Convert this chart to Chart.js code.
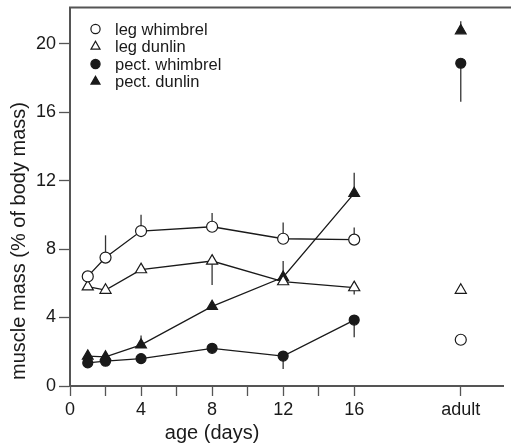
<!DOCTYPE html>
<html>
<head>
<meta charset="utf-8">
<script src="https://cdn.jsdelivr.net/npm/chart.js@4/dist/chart.umd.min.js"></script>
<style>
  html, body { margin: 0; padding: 0; background: #fff; }
  #wrap { width: 511px; height: 447px; }
</style>
</head>
<body>
<div id="wrap"><canvas id="chart" width="511" height="447"></canvas></div>
<script>
// age in days, the last one (22) is the "adult" column
var ages = [1, 2, 4, 8, 12, 16, 22];
var xTickValues = [0, 2, 4, 6, 8, 10, 12, 14, 16, 22];
var xTickLabels = { 0: '0', 4: '4', 8: '8', 12: '12', 16: '16', 22: 'adult' };
var yTickValues = [0, 4, 8, 12, 16, 20];

var legWhimbrel = [6.4, 7.5, 9.05, 9.3, 8.6, 8.55, 2.7];
var legDunlin = [5.8, 5.6, 6.8, 7.3, 6.1, 5.75, 5.6];
var pectWhimbrel = [1.35, 1.45, 1.6, 2.2, 1.75, 3.85, 18.85];
var pectDunlin = [1.75, 1.7, 2.4, 4.65, 6.35, 11.25, 20.75];

// one-sided error bar ends (null = none visible)
var legWhimbrelErr = [null, 8.8, 10.0, 10.1, 9.55, 9.25, null];
var legDunlinErr = [null, 5.4, null, 5.9, null, 5.35, 5.45];
var pectWhimbrelErr = [null, null, null, null, 1.0, 2.85, 16.6];
var pectDunlinErr = [2.0, null, 2.95, null, 7.3, 12.45, 21.3];

var axisColor = '#555';
var ink = '#1a1a1a';

function pts(arr) {
    return arr.map(function (v, i) { return { x: ages[i], y: v }; });
}

function makeSet(label, values, errs, style, fill, radius) {
    return {
        label: label,
        data: pts(values),
        errEnds: errs,
        borderColor: ink,
        borderWidth: 1.3,
        pointStyle: style,
        pointRadius: radius,
        pointHoverRadius: radius,
        pointBackgroundColor: fill,
        pointBorderColor: ink,
        pointBorderWidth: 1.2,
        tension: 0,
        segment: {
            // no line to the adult point
            borderColor: function (ctx) { return ctx.p1DataIndex === ages.length - 1 ? 'rgba(0,0,0,0)' : ink; }
        }
    };
}

var errorBars = {
    id: 'errorBars',
    beforeDatasetsDraw: function (chart) {
        var c = chart.ctx, xs = chart.scales.x, ys = chart.scales.y;
        c.save();
        c.strokeStyle = '#333';
        c.lineWidth = 1.3;
        chart.data.datasets.forEach(function (ds) {
            ds.errEnds.forEach(function (e, i) {
                if (e === null) return;
                var px = xs.getPixelForValue(ds.data[i].x);
                c.beginPath();
                c.moveTo(px, ys.getPixelForValue(ds.data[i].y));
                c.lineTo(px, ys.getPixelForValue(e));
                c.stroke();
            });
        });
        c.restore();
    }
};

var extras = {
    id: 'extras',
    afterDraw: function (chart) {
        var c = chart.ctx, a = chart.chartArea;
        c.save();
        // top frame line
        c.strokeStyle = axisColor;
        c.lineWidth = 2;
        c.beginPath();
        c.moveTo(a.left - 1, a.top);
        c.lineTo(chart.width, a.top);
        c.stroke();

        c.fillStyle = ink;
        c.font = '20px "Liberation Sans", Arial, sans-serif';
        c.textAlign = 'center';
        c.textBaseline = 'alphabetic';
        c.fillText('age (days)', chart.scales.x.getPixelForValue(8), 439);

        c.translate(25, 241);
        c.rotate(-Math.PI / 2);
        c.fillText('muscle mass (% of body mass)', 0, 0);
        c.restore();

        // legend
        c.save();
        c.font = '16.5px "Liberation Sans", Arial, sans-serif';
        c.textAlign = 'left';
        c.textBaseline = 'middle';
        chart.data.datasets.forEach(function (ds, i) {
            var y = 29 + i * 17.5;
            c.fillStyle = ds.pointBackgroundColor;
            c.strokeStyle = ink;
            c.lineWidth = 1.2;
            c.beginPath();
            if (ds.pointStyle === 'triangle') {
                var r = 5.2;
                c.moveTo(95.5, y - r);
                c.lineTo(95.5 + r * 0.866, y + r * 0.5);
                c.lineTo(95.5 - r * 0.866, y + r * 0.5);
                c.closePath();
            } else {
                c.arc(95.5, y, 4.6, 0, Math.PI * 2);
            }
            c.fill();
            c.stroke();
            c.fillStyle = ink;
            c.fillText(ds.label, 115, y + 1);
        });
        c.restore();
    }
};

var ctx = document.getElementById('chart').getContext('2d');
var myChart = new Chart(ctx, {
    type: 'line',
    data: {
        datasets: [
            makeSet('leg whimbrel', legWhimbrel, legWhimbrelErr, 'circle', '#fff', 5.5),
            makeSet('leg dunlin', legDunlin, legDunlinErr, 'triangle', '#fff', 6.4),
            makeSet('pect. whimbrel', pectWhimbrel, pectWhimbrelErr, 'circle', ink, 5),
            makeSet('pect. dunlin', pectDunlin, pectDunlinErr, 'triangle', ink, 6.2)
        ]
    },
    options: {
        responsive: false,
        animation: false,
        layout: { padding: { top: 7, right: 0, left: 0, bottom: 0 } },
        plugins: {
            legend: { display: false },
            tooltip: { enabled: false }
        },
        scales: {
            x: {
                type: 'linear',
                min: 0,
                max: 24.4,
                afterFit: function (s) { s.height = 61; s.paddingLeft = 0; s.paddingRight = 0; },
                afterBuildTicks: function (s) {
                    s.ticks = xTickValues.map(function (v) { return { value: v }; });
                },
                ticks: {
                    autoSkip: false,
                    maxRotation: 0,
                    padding: 3,
                    color: ink,
                    font: { family: '"Liberation Sans", Arial, sans-serif', size: 18 },
                    callback: function (v) { return xTickLabels[v] !== undefined ? xTickLabels[v] : ''; }
                },
                grid: {
                    drawOnChartArea: false,
                    drawTicks: true,
                    tickLength: 10,
                    tickColor: axisColor,
                    tickWidth: 1.3
                },
                border: { display: true, color: axisColor, width: 2 }
            },
            y: {
                min: 0,
                max: 22.1,
                afterFit: function (s) { s.width = 70; s.paddingTop = 0; s.paddingBottom = 0; },
                afterBuildTicks: function (s) {
                    s.ticks = yTickValues.map(function (v) { return { value: v }; });
                },
                ticks: {
                    padding: 3,
                    color: ink,
                    font: { family: '"Liberation Sans", Arial, sans-serif', size: 18 }
                },
                grid: {
                    drawOnChartArea: false,
                    drawTicks: true,
                    tickLength: 11,
                    tickColor: axisColor,
                    tickWidth: 1.3
                },
                border: { display: true, color: axisColor, width: 2 }
            }
        }
    },
    plugins: [errorBars, extras]
});
</script>
</body>
</html>
